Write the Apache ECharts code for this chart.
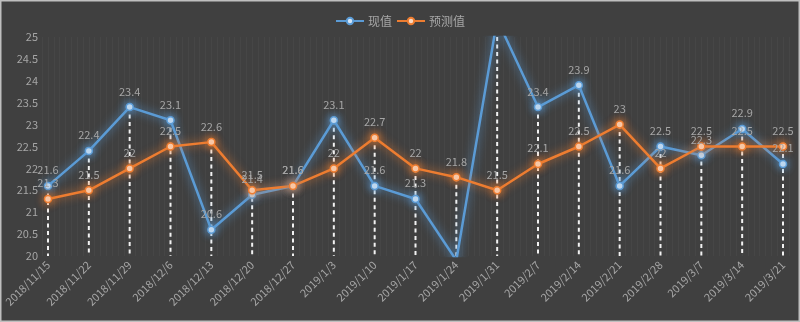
<!DOCTYPE html>
<html>
<head>
<meta charset="utf-8">
<script src="https://cdn.jsdelivr.net/npm/echarts@6/dist/echarts.min.js"></script>
<style>
  html, body { margin: 0; padding: 0; background: #404040; }
  #chart { width: 800px; height: 322px; }
</style>
</head>
<body>
<div id="chart"></div>
<script>
// Weekly dates on the x axis
const dates = [
  '2018/11/15', '2018/11/22', '2018/11/29', '2018/12/6', '2018/12/13',
  '2018/12/20', '2018/12/27', '2019/1/3', '2019/1/10', '2019/1/17',
  '2019/1/24', '2019/1/31', '2019/2/7', '2019/2/14', '2019/2/21',
  '2019/2/28', '2019/3/7', '2019/3/14', '2019/3/21'
];
// 现值 (actual)
const actual = [21.6, 22.4, 23.4, 23.1, 20.6, 21.4, 21.6, 23.1, 21.6, 21.3,
                19.9, 25.4, 23.4, 23.9, 21.6, 22.5, 22.3, 22.9, 22.1];
// 预测值 (forecast)
const forecast = [21.3, 21.5, 22, 22.5, 22.6, 21.5, 21.6, 22, 22.7, 22,
                  21.8, 21.5, 22.1, 22.5, 23, 22, 22.5, 22.5, 22.5];
const seriesNames = ['现值', '预测值'];
const yMin = 20, yMax = 25, yStep = 0.5;

const BLUE = '#5B9BD5', ORANGE = '#ED7D31';
const TEXT = '#a6a6a6';
const FONT = '"Noto Sans CJK SC", "Noto Sans", sans-serif';

// top of each drop line: the higher of the two series, kept inside the axis range
const dropTop = dates.map((d, i) =>
  [i, Math.min(yMax, Math.max(actual[i], forecast[i]))]);

const inRangeLabel = p => (p.value >= yMin && p.value <= yMax) ? String(p.value) : '';

function lineSeries(name, data, color, fill) {
  return {
    name, type: 'line', data,
    xAxisIndex: 0, yAxisIndex: 0,
    symbol: 'circle', symbolSize: 7,
    clip: true, z: 3,
    lineStyle: { color, width: 2.5, shadowBlur: 10, shadowColor: color },
    itemStyle: { color: fill, borderColor: color, borderWidth: 1.5,
                 shadowBlur: 8, shadowColor: color },
    label: {
      show: true, position: 'top', distance: 6,
      color: TEXT, fontSize: 11, fontFamily: FONT,
      formatter: inRangeLabel
    },
    emphasis: { disabled: true }
  };
}

const chart = echarts.init(document.getElementById('chart'), null, { renderer: 'canvas' });
chart.setOption({
  backgroundColor: '#404040',
  animation: false,
  textStyle: { fontFamily: FONT },
  graphic: [{
    type: 'rect', silent: true, z: 100,
    shape: { x: 0.75, y: 0.75, width: 798.5, height: 320.5 },
    style: { fill: null, stroke: '#bfbfbf', lineWidth: 1.5 }
  }],
  legend: {
    data: seriesNames,
    top: 10, left: 'center',
    itemWidth: 28, itemHeight: 8, itemGap: 4,
    textStyle: { color: TEXT, fontSize: 12, fontFamily: FONT, padding: [0, 0, 0, -1] }
  },
  grid: [
    { left: 48, right: 17, top: 37, bottom: 66 },
    { left: 42.2, right: 11.2, top: 37, bottom: 66 }
  ],
  xAxis: [
    {
      type: 'category', data: dates, boundaryGap: false, gridIndex: 0,
      axisLine: { show: false }, axisTick: { show: false },
      splitLine: { show: false },
      axisLabel: { rotate: 45, color: TEXT, fontSize: 11, fontFamily: FONT,
                   margin: 7, interval: 0 }
    },
    {
      // fine vertical stripes across the plot area
      type: 'value', gridIndex: 1, min: 0, max: 128, interval: 1,
      axisLine: { show: false }, axisTick: { show: false },
      axisLabel: { show: false },
      splitLine: { show: true, lineStyle: { color: 'rgba(255,255,255,0.035)', width: 1 } }
    }
  ],
  yAxis: [
    {
      type: 'value', gridIndex: 0, min: yMin, max: yMax, interval: yStep,
      axisLine: { show: false }, axisTick: { show: false },
      splitLine: { show: false },
      axisLabel: { color: TEXT, fontSize: 11, fontFamily: FONT, margin: 10 }
    },
    {
      type: 'value', gridIndex: 1, min: 0, max: 1,
      axisLine: { show: false }, axisTick: { show: false },
      axisLabel: { show: false }, splitLine: { show: false }
    }
  ],
  series: [
    {
      type: 'custom', name: 'drop', xAxisIndex: 0, yAxisIndex: 0, z: 1,
      silent: true, data: dropTop,
      renderItem: (params, api) => {
        const top = api.coord([api.value(0), api.value(1)]);
        const bot = api.coord([api.value(0), yMin]);
        return {
          type: 'line',
          shape: { x1: top[0], y1: top[1], x2: bot[0], y2: bot[1] },
          style: { stroke: '#f2f2f2', lineWidth: 2, lineDash: [4, 3.5] }
        };
      }
    },
    lineSeries(seriesNames[0], actual, BLUE, '#d4e5f6'),
    lineSeries(seriesNames[1], forecast, ORANGE, '#fbd9c2')
  ]
});
</script>
</body>
</html>
